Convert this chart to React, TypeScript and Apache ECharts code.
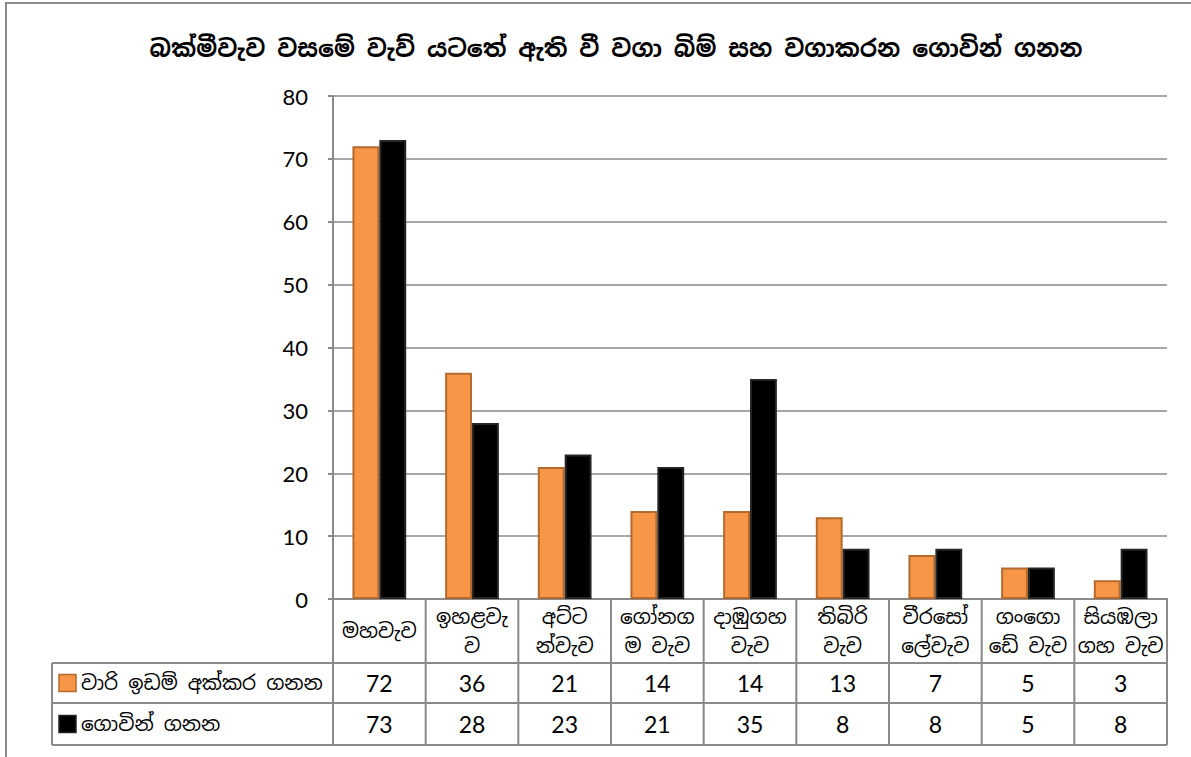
import React, { useEffect, useRef } from "react";
import * as echarts from "echarts";

const TITLE = "බක්මීවැව වසමේ වැව් යටතේ ඇති වී වගා බිම් සහ වගාකරන ගොවින් ගනන";
const categories = [
  "මහවැව",
  "ඉහළවැ\nව",
  "අට්ට\nන්වැව",
  "ගෝනග\nම වැව",
  "දාඹුගහ\nවැව",
  "තිබිරි\nවැව",
  "වීරසෝ\nලේවැව",
  "ගංගො\nඩේ වැව",
  "සියඹලා\nගහ වැව",
];
const seriesNames = ["වාරි ඉඩම් අක්කර ගනන", "ගොවින් ගනන"];
const landAcres = [72, 36, 21, 14, 14, 13, 7, 5, 3];
const farmers = [73, 28, 23, 21, 35, 8, 8, 5, 8];
const yMin = 0;
const yMax = 80;
const yInterval = 10;

const ORANGE = "#F79646";
const ORANGE_BORDER = "#B46A2C";
const BLACK = "#000000";
const GRID = "#8A8A8A";
const SIN_FONT = "'Noto Sans Sinhala', 'Iskoola Pota', 'Noto Sans', sans-serif";
const NUM_FONT = "Lato, 'Open Sans', 'Noto Sans', sans-serif";

export default function App() {
  const ref = useRef<HTMLDivElement>(null);
  useEffect(() => {
    if (!ref.current) return;
    const chart = echarts.init(ref.current, undefined, { renderer: "svg" });
    const values = [landAcres, farmers];
    const colors = [ORANGE, BLACK];
    const borders = [ORANGE_BORDER, "#262626"];
    chart.setOption({
      animation: false,
      backgroundColor: "#ffffff",
      title: {
        text: TITLE,
        left: 611,
        top: 31,
        textAlign: "center",
        textStyle: { fontFamily: SIN_FONT, fontSize: 23.8, fontWeight: "bold", color: "#000" },
      },
      grid: { left: 333, right: 24, top: 96, bottom: 158, containLabel: false },
      xAxis: {
        type: "category",
        data: categories,
        axisLine: { show: true, lineStyle: { color: GRID, width: 2 } },
        axisTick: { show: false },
        axisLabel: { show: false },
      },
      yAxis: {
        type: "value",
        min: yMin,
        max: yMax,
        interval: yInterval,
        axisLine: { show: true, lineStyle: { color: GRID, width: 2 } },
        axisTick: { show: true, length: 5, lineStyle: { color: GRID, width: 2 } },
        axisLabel: { margin: 25, fontSize: 22, color: "#000", fontFamily: NUM_FONT },
        splitLine: { show: true, lineStyle: { color: GRID, width: 1.5 } },
      },
      series: seriesNames.map((name, s) => ({
        type: "bar",
        name,
        data: values[s],
        barGap: "0%",
        barCategoryGap: "42%",
        itemStyle: { color: colors[s], borderColor: borders[s], borderWidth: 2 },
      })),
    });

    const xs = categories.map((_, i) => chart.convertToPixel({ xAxisIndex: 0 }, i) as number);
    const bw = xs[1] - xs[0];
    const y0 = chart.convertToPixel({ yAxisIndex: 0 }, 0) as number;
    const left = xs[0] - bw / 2;
    const right = xs[xs.length - 1] + bw / 2;
    const r1 = y0 + 64;
    const r2 = y0 + 104;
    const r3 = y0 + 146;
    const tableLeft = 52;
    const lineStyle = { stroke: GRID, lineWidth: 2 };
    const g: any[] = [];
    g.push({
      type: "rect",
      shape: { x: 6, y: 3, width: 1300, height: 900 },
      style: { fill: "none", stroke: GRID, lineWidth: 2 },
      silent: true,
    });
    for (let i = 0; i <= categories.length; i++) {
      const x = left + i * bw;
      g.push({ type: "line", shape: { x1: x, y1: y0, x2: x, y2: r3 }, style: lineStyle });
    }
    g.push({ type: "line", shape: { x1: tableLeft, y1: r1, x2: tableLeft, y2: r3 }, style: lineStyle });
    [r1, r2, r3].forEach((y) =>
      g.push({ type: "line", shape: { x1: tableLeft, y1: y, x2: right, y2: y }, style: lineStyle })
    );
    categories.forEach((c, i) => {
      g.push({
        type: "text",
        x: xs[i],
        y: (y0 + r1) / 2,
        style: {
          text: c,
          fontFamily: SIN_FONT,
          fontSize: 20,
          lineHeight: 29,
          fill: "#000",
          align: "center",
          verticalAlign: "middle",
        },
      });
    });
    const rows = [
      [r1, r2],
      [r2, r3],
    ];
    values.forEach((vals, s) => {
      const cy = (rows[s][0] + rows[s][1]) / 2;
      vals.forEach((v, i) => {
        g.push({
          type: "text",
          x: xs[i],
          y: cy,
          style: {
            text: String(v),
            fontFamily: NUM_FONT,
            fontSize: 23,
            fill: "#000",
            align: "center",
            verticalAlign: "middle",
          },
        });
      });
      g.push({
        type: "rect",
        shape: { x: 59, y: cy - 8.5, width: 17, height: 17 },
        style: { fill: colors[s], stroke: borders[s], lineWidth: 1.5 },
      });
      g.push({
        type: "text",
        x: 81,
        y: cy,
        style: {
          text: seriesNames[s],
          fontFamily: SIN_FONT,
          fontSize: 20,
          fill: "#000",
          align: "left",
          verticalAlign: "middle",
        },
      });
    });
    chart.setOption({ graphic: g });
    return () => chart.dispose();
  }, []);
  return (
    <div
      ref={ref}
      style={{ position: "fixed", left: 0, top: 0, width: 1191, height: 757, background: "#fff" }}
    />
  );
}
